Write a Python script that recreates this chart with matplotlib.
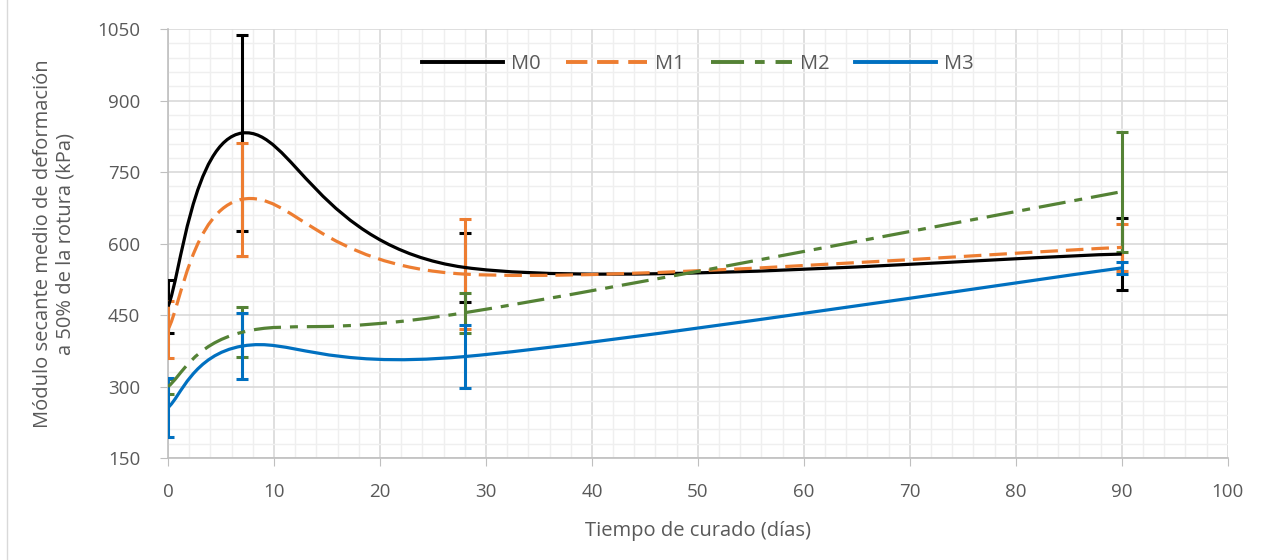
import numpy as np
import matplotlib as mpl
mpl.use('Agg')
import matplotlib.pyplot as plt
from matplotlib.path import Path
from matplotlib.patches import PathPatch
from matplotlib.lines import Line2D

# curing time (days)
dias = [0, 7, 28, 90]

# mean secant modulus (kPa) and error (+/-)
M0 = [468, 832, 550, 578]
M0_err = [55, 205, 73, 76]
M1 = [420, 693, 536, 592]
M1_err = [59, 119, 116, 50]
M2 = [300, 414, 455, 709]
M2_err = [15, 52, 42, 126]
M3 = [256, 385, 363, 549]
M3_err = [62, 70, 66, 12]

nombres = ['M0', 'M1', 'M2', 'M3']
colores = ['#000000', '#ED7D31', '#548235', '#0070C0']
estilos = ['-', (0, (5.5, 2.5)), (0, (8.5, 2.8, 2.5, 2.8)), '-']


def smooth_path(x, y):
    # Excel-style smoothed line: Catmull-Rom as cubic Bezier segments
    p = np.column_stack([x, y]).astype(float)
    n = len(p)
    verts = [p[0]]
    codes = [Path.MOVETO]
    for i in range(n - 1):
        p0 = p[max(i - 1, 0)]
        p1 = p[i]
        p2 = p[i + 1]
        p3 = p[min(i + 2, n - 1)]
        c1 = p1 + (p2 - p0) / 6.0
        c2 = p2 - (p3 - p1) / 6.0
        verts += [c1, c2, p2]
        codes += [Path.CURVE4] * 3
    return Path(verts, codes)


plt.rcParams['font.family'] = ['Open Sans', 'DejaVu Sans']
fig = plt.figure(figsize=(12.67, 5.6), dpi=100)
ax = fig.add_axes([0.1326, 0.182, 0.8364, 0.766])

series = [(M0, M0_err), (M1, M1_err), (M2, M2_err), (M3, M3_err)]
handles = []
for (y, e), nom, c, ls in zip(series, nombres, colores, estilos):
    ax.errorbar(dias, y, yerr=e, fmt='none', ecolor=c, elinewidth=2.2,
                capsize=4, capthick=2.2, zorder=3)
    patch = PathPatch(smooth_path(dias, y), fill=False, edgecolor=c,
                      linewidth=2.3, linestyle=ls, zorder=4,
                      capstyle='butt')
    ax.add_patch(patch)
    handles.append(Line2D([], [], color=c, linewidth=2.8, linestyle=ls,
                          label=nom))

ax.set_xlim(0, 100)
ax.set_ylim(150, 1050)
ax.set_xticks(np.arange(0, 101, 10))
ax.set_yticks(np.arange(150, 1051, 150))
ax.set_xticks(np.arange(0, 101, 2), minor=True)
ax.set_yticks(np.arange(150, 1051, 30), minor=True)
ax.grid(which='major', color='#d9d9d9', linewidth=1.2, zorder=0)
ax.grid(which='minor', color='#efefef', linewidth=1.0, zorder=0)
ax.set_axisbelow(True)

for s in ['top', 'right']:
    ax.spines[s].set_visible(False)
for s in ['left', 'bottom']:
    ax.spines[s].set_color('#bfbfbf')
    ax.spines[s].set_linewidth(1.2)
ax.tick_params(axis='both', which='major', length=6, color='#bfbfbf',
               labelsize=13.5, labelcolor='#595959')
ax.tick_params(axis='y', which='major', pad=14)
ax.tick_params(axis='x', which='major', pad=12)
ax.tick_params(axis='both', which='minor', length=0)

ax.set_xlabel('Tiempo de curado (días)', fontsize=14.5, color='#595959',
              labelpad=14)
ax.set_ylabel('Módulo secante medio de deformación\na 50% de la rotura (kPa)',
              fontsize=14.5, color='#595959', labelpad=16, linespacing=1.15)

leg = ax.legend(handles=handles, loc='upper center', ncol=4, frameon=False,
                bbox_to_anchor=(0.5, 0.985), fontsize=14.5, handlelength=4.0,
                columnspacing=1.3, handletextpad=0.4)
for t in leg.get_texts():
    t.set_color('#595959')

fig.add_artist(Line2D([7 / 1267, 7 / 1267], [0, 1], color='#d9d9d9',
                      linewidth=1.0, transform=fig.transFigure))

fig.savefig('out.png', dpi=100)
plt.close()
